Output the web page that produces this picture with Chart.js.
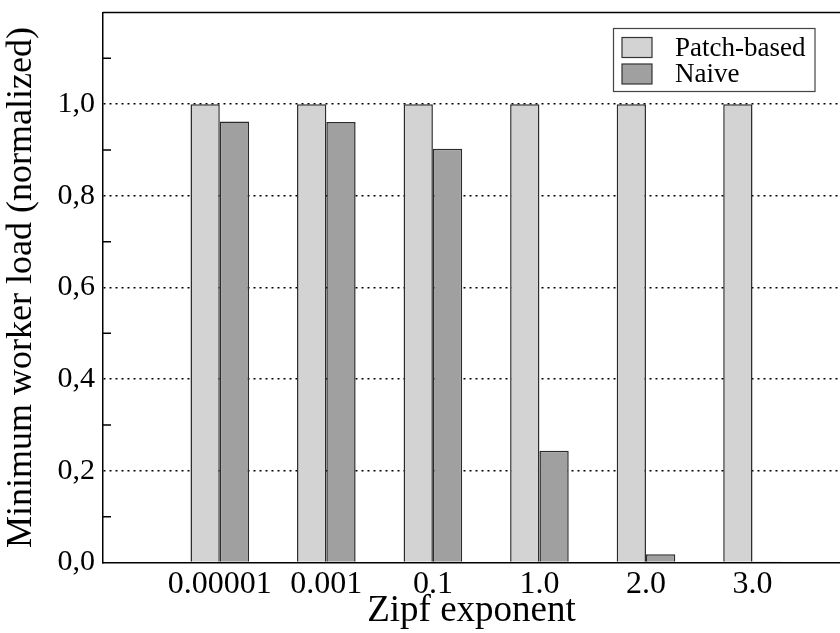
<!DOCTYPE html>
<html>
<head>
<meta charset="utf-8">
<title>Minimum worker load</title>
<script src="https://cdn.jsdelivr.net/npm/chart.js@4.4.1/dist/chart.umd.min.js"></script>
<style>
    html, body { margin: 0; padding: 0; background: #fff; }
    #wrap { width: 840px; height: 633px; }
</style>
</head>
<body>
<div id="wrap"><canvas id="loadChart" width="840" height="633"></canvas></div>
<script>
// 데이터
const CATEGORIES = ['0.00001', '0.001', '0.1', '1.0', '2.0', '3.0'];
const PATCH_BASED = [1.0, 1.0, 1.0, 1.0, 1.0, 1.0];
const NAIVE = [0.962, 0.961, 0.903, 0.244, 0.018, 0.002];
const Y_TICKS = [0, 0.2, 0.4, 0.6, 0.8, 1.0];
const Y_MINOR_TICKS = [0.1, 0.3, 0.5, 0.7, 0.9, 1.1];

const SERIF = '"Liberation Serif", "DejaVu Serif", serif';

// 프레임 위쪽 선, 보조 눈금, 범례
const framePlugin = {
    id: 'frame',
    afterDatasetsDraw(chart) {
        const ctx = chart.ctx;
        const area = chart.chartArea;
        const y = chart.scales.y;
        ctx.save();
        ctx.strokeStyle = '#000';
        ctx.lineWidth = 1.5;
        ctx.beginPath();
        ctx.moveTo(area.left, area.top);
        ctx.lineTo(area.right, area.top);
        Y_MINOR_TICKS.forEach(function(v) {
            const py = y.getPixelForValue(v);
            ctx.moveTo(area.left, py);
            ctx.lineTo(area.left + 8, py);
        });
        ctx.stroke();

        // 범례
        const box = { x: 613.5, y: 28.5, w: 201.5, h: 63 };
        ctx.fillStyle = '#fff';
        ctx.fillRect(box.x, box.y, box.w, box.h);
        ctx.strokeStyle = '#444';
        ctx.lineWidth = 1.2;
        ctx.strokeRect(box.x, box.y, box.w, box.h);
        ctx.font = '27px ' + SERIF;
        ctx.textBaseline = 'middle';
        chart.data.datasets.forEach(function(ds, i) {
            const cy = 47.5 + i * 26.5;
            ctx.fillStyle = ds.backgroundColor;
            ctx.fillRect(622, cy - 10, 30, 20);
            ctx.strokeStyle = '#333';
            ctx.lineWidth = 1.2;
            ctx.strokeRect(622, cy - 10, 30, 20);
            ctx.fillStyle = '#000';
            ctx.fillText(ds.label, 675, cy + 1);
        });
        ctx.restore();
    }
};

document.addEventListener('DOMContentLoaded', function() {
    const ctx = document.getElementById('loadChart').getContext('2d');
    new Chart(ctx, {
        type: 'bar',
        data: {
            datasets: [{
                label: 'Patch-based',
                data: PATCH_BASED.map((v, i) => ({ x: i, y: v })),
                backgroundColor: '#d3d3d3',
                borderColor: '#2b2b2b',
                borderWidth: 1.5
            }, {
                label: 'Naive',
                data: NAIVE.map((v, i) => ({ x: i, y: v })),
                backgroundColor: '#a0a0a0',
                borderColor: '#2b2b2b',
                borderWidth: 1.5
            }]
        },
        options: {
            responsive: false,
            animation: false,
            events: [],
            categoryPercentage: 0.55,
            barPercentage: 1.0,
            layout: { padding: { top: 12.5, right: 0, left: 0, bottom: 0 } },
            plugins: {
                legend: { display: false },
                tooltip: { enabled: false }
            },
            scales: {
                x: {
                    type: 'linear',
                    min: -1.096,
                    max: 5.821,
                    offset: false,
                    afterBuildTicks: function(scale) {
                        scale.ticks = CATEGORIES.map((_, i) => ({ value: i }));
                    },
                    afterFit: function(scale) {
                        scale.height = 70.5;
                        scale.paddingLeft = 0;
                        scale.paddingRight = 0;
                    },
                    grid: { display: false, drawTicks: false },
                    border: { display: true, color: '#000', width: 1.5 },
                    ticks: {
                        padding: 3,
                        color: '#000',
                        font: { family: SERIF, size: 32 },
                        maxRotation: 0,
                        autoSkip: false,
                        callback: function(value) { return CATEGORIES[value]; }
                    },
                    title: {
                        display: true,
                        text: 'Zipf exponent',
                        color: '#000',
                        font: { family: SERIF, size: 37 },
                        padding: { top: 0, bottom: 0 }
                    }
                },
                y: {
                    min: 0,
                    max: 1.2,
                    afterBuildTicks: function(scale) {
                        scale.ticks = Y_TICKS.map(v => ({ value: v }));
                    },
                    afterFit: function(scale) {
                        scale.width = 103;
                        scale.paddingTop = 0;
                        scale.paddingBottom = 0;
                    },
                    grid: {
                        drawTicks: false,
                        lineWidth: 1.5,
                        color: function(c) {
                            const v = c.tick ? c.tick.value : 0;
                            return v > 0.001 ? '#000' : 'rgba(0,0,0,0)';
                        }
                    },
                    border: { display: true, color: '#000', width: 1.5, dash: [2, 4] },
                    ticks: {
                        padding: 8,
                        color: '#000',
                        font: { family: SERIF, size: 30 },
                        callback: function(value) { return value.toFixed(1).replace('.', ','); }
                    },
                    title: {
                        display: true,
                        text: 'Minimum worker load (normalized)',
                        color: '#000',
                        font: { family: SERIF, size: 36 },
                        padding: { top: 0, bottom: 0, left: 10 }
                    }
                }
            }
        },
        plugins: [framePlugin]
    });
});
</script>
</body>
</html>
